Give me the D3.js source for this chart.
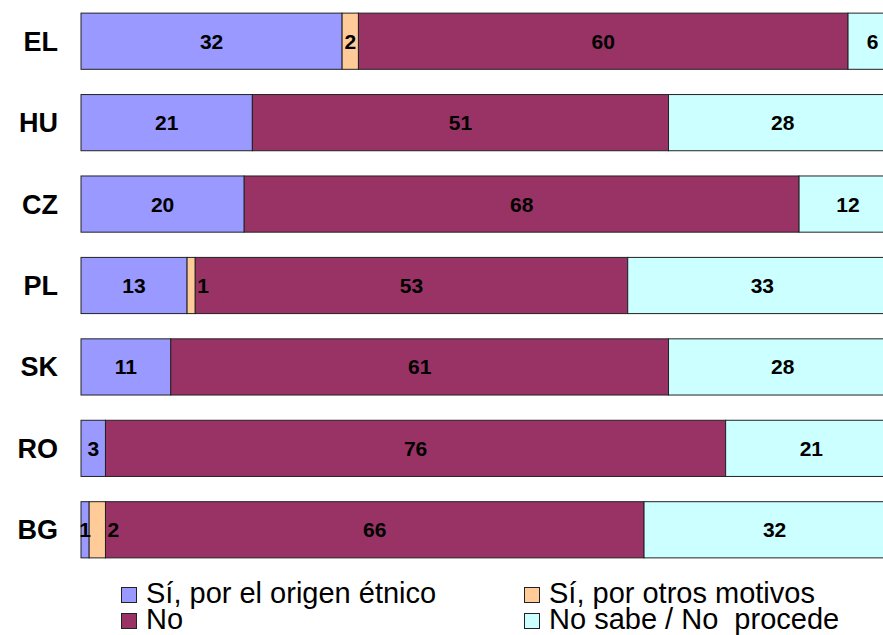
<!DOCTYPE html>
<html>
<head>
<meta charset="utf-8">
<script src="https://cdn.jsdelivr.net/npm/d3@7"></script>
<style>
  body { margin: 0; background: #fff; }
  svg { display: block; font-family: "Liberation Sans", Arial, sans-serif; }
  text { white-space: pre; }
</style>
</head>
<body>
<svg id="chart" width="883" height="635"></svg>
<script>
// Datos ---------------
const countries = ["EL", "HU", "CZ", "PL", "SK", "RO", "BG"];
const series = ["Sí, por el origen étnico", "Sí, por otros motivos", "No", "No sabe / No  procede"];
const colors = ["#9999ff", "#ffcc99", "#993366", "#ccffff"];

const siEtnico = [32, 21, 20, 13, 11, 3, 1];
const siOtros = [2, 0, 0, 1, 0, 0, 2];
const no = [60, 51, 68, 53, 61, 76, 66];
const noSabe = [6, 28, 12, 33, 28, 21, 32];

// etiquetas que van fuera del segmento (país, serie)
const labelsOutside = [["PL", 1], ["BG", 1]];

const svg = d3.select("#chart");

const x = d3.scaleLinear().domain([0, 100]).range([81, 897]);
const y = d3.scaleBand()
  .domain(countries)
  .range([0, 570])
  .paddingInner(0.31)
  .paddingOuter(0.155);

const rows = countries.map((c, i) => {
  const vals = [siEtnico[i], siOtros[i], no[i], noSabe[i]];
  let acc = 0;
  return vals.map((v, k) => {
    const seg = { country: c, k: k, value: v, x0: acc, x1: acc + v };
    acc += v;
    return seg;
  }).filter((s) => s.value > 0);
});

const row = svg.append("g")
  .selectAll("g.row")
  .data(rows)
  .enter()
  .append("g")
  .attr("class", "row");

row.selectAll("rect")
  .data((d) => d)
  .enter()
  .append("rect")
  .attr("x", (d) => x(d.x0))
  .attr("y", (d) => y(d.country) + 0.5)
  .attr("width", (d) => x(d.x1) - x(d.x0))
  .attr("height", y.bandwidth())
  .attr("fill", (d) => colors[d.k])
  .attr("stroke", "#222")
  .attr("stroke-width", 1);

const isOutside = (d) => labelsOutside.some((o) => o[0] === d.country && o[1] === d.k);

row.selectAll("text")
  .data((d) => d)
  .enter()
  .append("text")
  .attr("x", (d) => isOutside(d) ? x(d.x1) + 2 : (x(d.x0) + x(d.x1)) / 2)
  .attr("y", (d) => y(d.country) + y.bandwidth() / 2 + 8)
  .attr("text-anchor", (d) => isOutside(d) ? "start" : "middle")
  .attr("font-size", 21)
  .attr("font-weight", "bold")
  .attr("fill", "#000")
  .text((d) => d.value);

// Eje de países
svg.append("g")
  .selectAll("text")
  .data(countries)
  .enter()
  .append("text")
  .attr("x", 58)
  .attr("y", (d) => y(d) + y.bandwidth() / 2 + 10)
  .attr("text-anchor", "end")
  .attr("font-size", 27)
  .attr("font-weight", "bold")
  .text((d) => d);

// Leyenda
const legendPos = [[121, 587], [524, 587], [121, 613], [524, 613]];
const legend = svg.append("g")
  .selectAll("g")
  .data(series)
  .enter()
  .append("g")
  .attr("transform", (d, i) => `translate(${legendPos[i][0]},${legendPos[i][1]})`);

legend.append("rect")
  .attr("x", 0.5)
  .attr("y", 0.5)
  .attr("width", 15)
  .attr("height", 15)
  .attr("fill", (d, i) => colors[i])
  .attr("stroke", "#222");

legend.append("text")
  .attr("x", 25)
  .attr("y", 16)
  .attr("font-size", 29)
  .attr("fill", "#000")
  .text((d) => d);
</script>
</body>
</html>
